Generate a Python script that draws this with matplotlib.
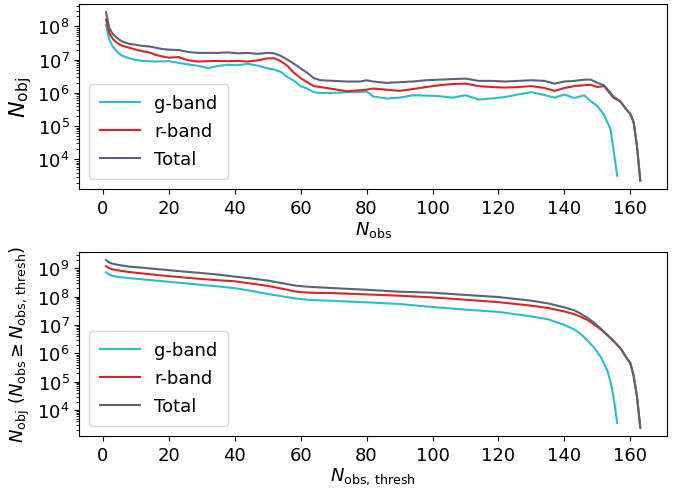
import matplotlib
matplotlib.use('Agg')
import matplotlib.pyplot as plt
from matplotlib.ticker import LogLocator, NullFormatter

# top panel: number of objects per N_obs
n_obs = [1, 2, 3, 4, 5, 6, 8, 10, 12, 14, 16, 18, 20, 23, 26, 29, 32, 35, 38, 41,
         44, 47, 50, 52, 54, 56, 58, 60, 62, 64, 66, 70, 74, 78, 80, 82, 86, 90, 94,
         98, 102, 106, 110, 114, 118, 122, 126, 130, 134, 137, 140, 143, 146, 148,
         150, 152, 154, 155, 156, 157, 158, 159, 160, 161, 162, 163]
total = [2.7e8, 9e7, 6e7, 4.8e7, 4e7, 3.5e7, 3e7, 2.8e7, 2.6e7, 2.5e7, 2.3e7, 2.1e7,
         2.0e7, 1.95e7, 1.7e7, 1.6e7, 1.6e7, 1.6e7, 1.65e7, 1.55e7, 1.6e7, 1.5e7,
         1.6e7, 1.55e7, 1.3e7, 1.0e7, 7.5e6, 5.5e6, 4e6, 2.8e6, 2.4e6, 2.3e6, 2.2e6,
         2.2e6, 2.4e6, 2.2e6, 2.0e6, 2.1e6, 2.2e6, 2.4e6, 2.5e6, 2.6e6, 2.7e6, 2.3e6,
         2.3e6, 2.2e6, 2.3e6, 2.4e6, 2.3e6, 1.9e6, 2.2e6, 2.3e6, 2.5e6, 2.5e6, 2.0e6,
         1.7e6, 1.0e6, 7.5e5, 6.5e5, 5.5e5, 4e5, 3e5, 2.3e5, 1.3e5, 2.5e4, 2.3e3]
rband = [1.6e8, 6.3e7, 4.3e7, 3.4e7, 2.9e7, 2.6e7, 2.3e7, 2.0e7, 1.8e7, 1.65e7, 1.4e7,
         1.25e7, 1.15e7, 1.2e7, 9.5e6, 8.8e6, 9e6, 9.2e6, 9e6, 9.2e6, 8.8e6, 9.5e6,
         1.1e7, 1.1e7, 9e6, 6.5e6, 4e6, 2.8e6, 2.1e6, 1.6e6, 1.5e6, 1.3e6, 1.12e6,
         1.2e6, 1.25e6, 1.35e6, 1.25e6, 1.15e6, 1.3e6, 1.5e6, 1.7e6, 1.85e6, 1.9e6,
         1.6e6, 1.5e6, 1.45e6, 1.5e6, 1.6e6, 1.4e6, 1.15e6, 1.4e6, 1.6e6, 1.7e6,
         1.75e6, 1.5e6, 1.6e6, 9.2e5, 7e5, 6.3e5, 5.5e5, 4e5, 3e5, 2.3e5, 1.3e5,
         2.5e4, 2.3e3]
n_obs_g = n_obs[:59]
gband = [1.1e8, 4e7, 2.5e7, 1.9e7, 1.5e7, 1.3e7, 1.1e7, 9.8e6, 9.2e6, 9e6, 8.8e6,
         8.9e6, 9e6, 8e6, 7.2e6, 6.5e6, 5.6e6, 6.5e6, 7e6, 6.8e6, 7.5e6, 6.6e6, 5.5e6,
         5e6, 4.3e6, 3e6, 2.3e6, 1.6e6, 1.35e6, 1.05e6, 1e6, 1e6, 1.05e6, 1.05e6,
         1.1e6, 7.8e5, 6.8e5, 7.2e5, 8.5e5, 8.3e5, 8e5, 7.2e5, 8.5e5, 6.3e5, 6.8e5,
         7.5e5, 9e5, 1.05e6, 8.6e5, 7.2e5, 8.9e5, 7e5, 8.5e5, 5.6e5, 4e5, 2.2e5, 8e4,
         1.6e4, 3.2e3]

# bottom panel: number of objects with N_obs >= threshold
thresh = [1, 2, 3, 5, 8, 12, 16, 20, 25, 30, 35, 40, 45, 50, 55, 58, 60, 62, 65, 70,
          80, 90, 100, 110, 120, 130, 135, 140, 143, 145, 147, 149, 151, 153, 154, 155,
          156, 157, 158, 159, 160, 161, 162, 163]
cum_total = [1.95e9, 1.6e9, 1.45e9, 1.3e9, 1.15e9, 1.05e9, 9.5e8, 8.6e8, 7.6e8, 6.8e8,
             6.0e8, 5.1e8, 4.4e8, 3.7e8, 2.9e8, 2.5e8, 2.35e8, 2.25e8, 2.15e8, 2.0e8,
             1.75e8, 1.5e8, 1.38e8, 1.15e8, 9.7e7, 7.2e7, 5.8e7, 4.2e7, 3.3e7, 2.5e7,
             1.8e7, 1.2e7, 7.5e6, 4.5e6, 3.5e6, 2.7e6, 2e6, 1.5e6, 1e6, 6.5e5, 4.5e5,
             1.6e5, 3e4, 2.4e3]
cum_r = [1.2e9, 1.0e9, 9.2e8, 8.3e8, 7.4e8, 6.6e8, 5.9e8, 5.3e8, 4.7e8, 4.2e8, 3.8e8,
         3.5e8, 2.9e8, 2.4e8, 1.85e8, 1.55e8, 1.45e8, 1.4e8, 1.36e8, 1.33e8, 1.2e8,
         1.08e8, 9.4e7, 7.8e7, 6.4e7, 4.8e7, 4e7, 3e7, 2.4e7, 1.95e7, 1.5e7, 1.05e7,
         7e6, 4.4e6, 3.4e6, 2.65e6, 1.98e6, 1.5e6, 1e6, 6.5e5, 4.5e5, 1.6e5, 3e4, 2.4e3]
thresh_g = thresh[:37]
cum_g = [7.2e8, 6e8, 5.4e8, 4.9e8, 4.5e8, 4.1e8, 3.7e8, 3.35e8, 2.95e8, 2.6e8, 2.3e8,
         2e8, 1.6e8, 1.25e8, 1.0e8, 8.8e7, 8.2e7, 7.8e7, 7.5e7, 7.1e7, 6.3e7, 5.5e7,
         4.3e7, 3.5e7, 2.9e7, 2.0e7, 1.6e7, 1.0e7, 7e6, 4.8e6, 2.8e6, 1.6e6, 7.5e5,
         2.5e5, 9.8e4, 2.5e4, 3.5e3]

c_g = '#2cbdc6'
c_r = '#d62728'
c_t = '#5a6476'

fig = plt.figure(figsize=(6.85, 4.89), dpi=100)
ax1 = fig.add_axes([0.1158, 0.6115, 0.8579, 0.3789])
ax2 = fig.add_axes([0.1158, 0.1063, 0.8579, 0.3769])

ax1.plot(n_obs_g, gband, color=c_g, label='g-band')
ax1.plot(n_obs, rband, color=c_r, label='r-band')
ax1.plot(n_obs, total, color=c_t, label='Total')
ax1.set_yscale('log')
ax1.set_xlabel(r'$N_{\rm obs}$', fontsize=13, labelpad=2)
ax1.set_ylabel(r'$N_{\rm obj}$', fontsize=16, labelpad=2)

ax2.plot(thresh_g, cum_g, color=c_g, label='g-band')
ax2.plot(thresh, cum_r, color=c_r, label='r-band')
ax2.plot(thresh, cum_total, color=c_t, label='Total')
ax2.set_yscale('log')
ax2.set_xlabel(r'$N_{\rm obs,\,thresh}$', fontsize=13, labelpad=1)
ax2.set_ylabel(r'$N_{\rm obj}\ (N_{\rm obs} \geq N_{\rm obs,\,thresh})$', fontsize=13)

for ax in (ax1, ax2):
    ax.set_xticks([0, 20, 40, 60, 80, 100, 120, 140, 160])
    ax.yaxis.set_major_locator(LogLocator(base=10, numticks=20))
    ax.yaxis.set_minor_locator(LogLocator(base=10, subs=range(2, 10), numticks=20))
    ax.yaxis.set_minor_formatter(NullFormatter())
    ax.tick_params(labelsize=13)
    ax.legend(loc='lower left', fontsize=13, handlelength=2.2, borderaxespad=0.55,
              borderpad=0.6, labelspacing=0.55)

plt.savefig('out.png', dpi=100)
